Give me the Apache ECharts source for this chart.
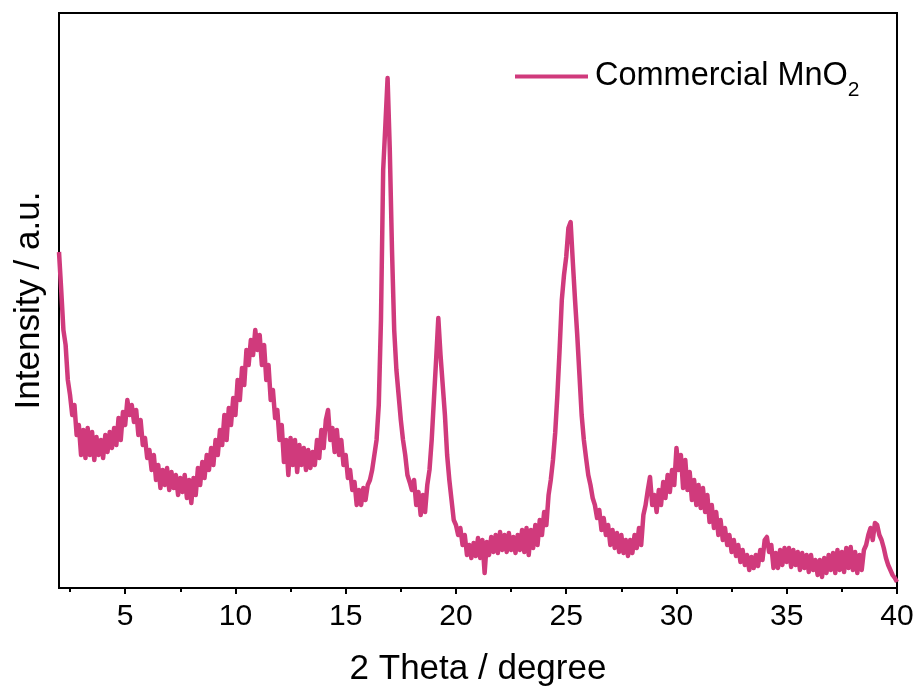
<!DOCTYPE html>
<html>
<head>
<meta charset="utf-8">
<script src="https://cdn.jsdelivr.net/npm/echarts@6/dist/echarts.min.js"></script>
<style>
  html, body { margin: 0; padding: 0; background: #fff; }
  #chart { width: 919px; height: 693px; }
</style>
</head>
<body>
<div id="chart"></div>
<script>
const angleStart = 2.0;
const angleStep = 0.1;
const intensity = [
  338, 300, 260, 245, 210, 195, 175, 185, 155, 165,
  135, 160, 132, 162, 135, 158, 130, 153, 135, 150,
  132, 155, 138, 158, 142, 162, 145, 172, 150, 178,
  165, 190, 175, 185, 168, 180, 155, 170, 145, 152,
  132, 140, 120, 135, 110, 125, 102, 120, 105, 122,
  100, 118, 102, 115, 95, 112, 98, 115, 92, 110,
  87, 112, 95, 122, 105, 128, 112, 135, 120, 142,
  125, 150, 135, 160, 145, 175, 150, 182, 165, 192,
  175, 210, 190, 222, 205, 240, 225, 250, 235, 260,
  240, 255, 225, 245, 210, 225, 190, 200, 172, 180,
  150, 165, 128, 150, 115, 152, 125, 150, 118, 145,
  125, 142, 120, 140, 122, 138, 125, 150, 132, 160,
  142, 170, 180, 150, 162, 138, 160, 135, 150, 125,
  135, 112, 120, 100, 108, 85, 100, 85, 102, 90,
  105, 110, 120, 135, 150, 185, 270, 420, 465, 512,
  440, 340, 260, 220, 195, 170, 150, 135, 115, 108,
  100, 110, 85, 98, 75, 95, 78, 105, 120, 150,
  190, 230, 272, 235, 205, 175, 135, 110, 90, 70,
  65, 55, 62, 45, 55, 35, 45, 32, 47, 34,
  52, 32, 50, 17, 48, 35, 53, 38, 55, 37,
  58, 40, 55, 38, 57, 40, 53, 37, 55, 40,
  60, 38, 62, 35, 60, 42, 65, 45, 70, 55,
  78, 65, 95, 110, 130, 157, 195, 240, 290, 315,
  333, 362, 368, 328, 290, 255, 215, 175, 150, 132,
  115, 105, 92, 85, 72, 80, 60, 72, 55, 65,
  45, 60, 42, 57, 38, 55, 37, 50, 34, 50,
  37, 55, 42, 62, 45, 75, 85, 100, 113, 85,
  95, 78, 100, 85, 108, 92, 115, 98, 120, 105,
  142, 120, 135, 102, 130, 100, 118, 90, 110, 85,
  105, 82, 102, 78, 95, 68, 85, 62, 78, 55,
  70, 50, 62, 45, 55, 38, 50, 34, 45, 28,
  40, 25, 35, 20, 33, 22, 35, 24, 40, 30,
  50, 53, 38, 45, 22, 37, 22, 40, 25, 42,
  28, 42, 23, 40, 25, 38, 20, 37, 22, 35,
  18, 35, 20, 30, 15, 30, 13, 32, 17, 35,
  20, 37, 17, 40, 20, 38, 18, 42, 22, 43,
  20, 38, 17, 35, 20, 40, 45, 55, 62, 50,
  67, 65, 55, 50, 42, 32, 25, 20, 15, 12,
  8
];
const majorTicks = [5, 10, 15, 20, 25, 30, 35, 40];
const minorTicks = [2.5, 7.5, 12.5, 17.5, 22.5, 27.5, 32.5, 37.5];
const seriesName = 'Commercial MnO2';

const font = 'Liberation Sans, Arial, sans-serif';
const lineColor = '#d03a7c';
const data = intensity.map((v, i) => [+(angleStart + i * angleStep).toFixed(1), v]);

const chart = echarts.init(document.getElementById('chart'));
chart.setOption({
  animation: false,
  backgroundColor: '#fff',
  grid: {
    left: 59, right: 22, top: 13, bottom: 105,
    show: true, borderColor: '#000', borderWidth: 2
  },
  legend: {
    left: 510, top: 55,
    icon: 'rect',
    itemWidth: 73, itemHeight: 4,
    data: [seriesName],
    formatter: () => '{a|Commercial MnO}{b|2}',
    textStyle: {
      rich: {
        a: { fontFamily: font, fontSize: 32.5, color: '#000', lineHeight: 48, verticalAlign: 'middle', padding: [0, 0, 0, 2] },
        b: { fontFamily: font, fontSize: 21, color: '#000', lineHeight: 48, verticalAlign: 'bottom' }
      }
    }
  },
  xAxis: [{
    type: 'value', min: 2, max: 40,
    name: '2 Theta / degree', nameLocation: 'middle', nameGap: 64,
    nameTextStyle: { fontFamily: font, fontSize: 35, color: '#000' },
    axisLine: { lineStyle: { color: '#000', width: 2 } },
    axisTick: { customValues: majorTicks, length: 6, lineStyle: { color: '#000', width: 2 } },
    axisLabel: { customValues: majorTicks, fontFamily: font, fontSize: 30, color: '#000', margin: 14 },
    splitLine: { show: false }
  }, {
    type: 'value', min: 2, max: 40, position: 'bottom',
    axisLine: { show: false },
    axisTick: { customValues: minorTicks, length: 4, lineStyle: { color: '#000', width: 2 } },
    axisLabel: { show: false },
    splitLine: { show: false }
  }],
  yAxis: {
    type: 'value', min: 2, max: 577,
    name: 'Intensity / a.u.', nameLocation: 'middle', nameGap: 12,
    nameTextStyle: { fontFamily: font, fontSize: 35, color: '#000' },
    axisLine: { show: true, lineStyle: { color: '#000', width: 2 } },
    axisTick: { show: false },
    axisLabel: { show: false },
    splitLine: { show: false }
  },
  series: [{
    name: seriesName,
    type: 'line',
    xAxisIndex: 0,
    data: data,
    symbol: 'none',
    color: lineColor,
    itemStyle: { color: lineColor },
    lineStyle: { width: 4.5, color: lineColor, join: 'round' }
  }]
});
</script>
</body>
</html>
